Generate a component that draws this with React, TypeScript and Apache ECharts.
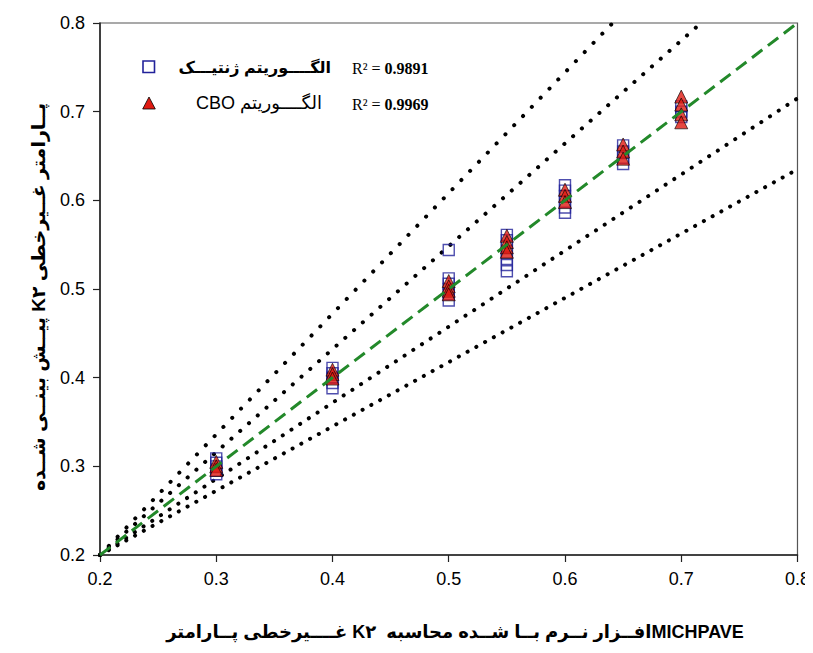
import React, { useEffect, useRef } from "react";
import * as echarts from "echarts";

// Measured K2 (MICHPAVE) values on the x axis
const xLevels = [0.3, 0.4, 0.5, 0.55, 0.6, 0.65, 0.7];

// Genetic algorithm predictions, grouped by x level
const geneticY = [
  [0.309, 0.304, 0.3, 0.295, 0.291],
  [0.411, 0.405, 0.4, 0.394, 0.388],
  [0.544, 0.512, 0.506, 0.5, 0.494, 0.487],
  [0.561, 0.555, 0.548, 0.541, 0.534, 0.527, 0.52],
  [0.617, 0.611, 0.605, 0.598, 0.592, 0.586],
  [0.662, 0.655, 0.648, 0.641],
  [0.706, 0.7, 0.694],
];

// CBO algorithm predictions, grouped by x level
const cboY = [
  [0.305, 0.3, 0.296],
  [0.409, 0.404, 0.399],
  [0.509, 0.503, 0.498, 0.494],
  [0.56, 0.553, 0.547, 0.542],
  [0.612, 0.605, 0.598],
  [0.663, 0.655, 0.647],
  [0.717, 0.708, 0.697, 0.688],
];

// Dotted guide lines, as [start, end] points
const guideLines = [
  { from: [0.2, 0.2], to: [0.641, 0.8], gap: 12.6 },
  { from: [0.2, 0.2], to: [0.717, 0.8], gap: 11.6 },
  { from: [0.2, 0.2], to: [0.8, 0.715], gap: 10.3 },
  { from: [0.2, 0.2], to: [0.8, 0.635], gap: 9.9 },
];

// Line of equality
const equalityLine = [
  [0.2, 0.2],
  [0.8, 0.8],
];

const axisTicks = { min: 0.2, max: 0.8, interval: 0.1 };

// Right-to-left embedding for mixed Persian/Latin strings
const rtl = (s: string) => "\u202B" + s + "\u202C";

const legendRows = [
  { name: "الگــــوریتم ژنتیـــک", r2: "0.9891" },
  { name: "الگــــوریتم CBO", r2: "0.9969" },
];

// x title words, placed left to right; the number is the space that follows each word
const xTitleWords: [string, number][] = [
  ["پــارامتر", 1],
  ["غــــیرخطی", 1],
  ["K۲", 2],
  ["محاسبه", 1],
  ["شــده", 1],
  ["بــا", 1],
  ["نــرم", 1],
  ["افــزار", 0],
  ["MICHPAVE", 0],
];
const yTitle = "پــارامتر غــیرخطی K۲ پیــش بینــی شــده";

const flatten = (groups: number[][]) =>
  groups.flatMap((ys, i) => ys.map((y) => [xLevels[i], y]));

const SANS = "Liberation Sans, Arial, DejaVu Sans, sans-serif";
const SERIF = "Liberation Serif, Times New Roman, serif";
const TITLE_FONT = `bold 18px ${SANS}`;

function layoutWords(centerX: number, y: number) {
  const ctx = document.createElement("canvas").getContext("2d")!;
  ctx.font = TITLE_FONT;
  const space = ctx.measureText(" ").width;
  const widths = xTitleWords.map(([w]) => ctx.measureText(w).width);
  const total = widths.reduce(
    (s, w, i) => s + w + xTitleWords[i][1] * space,
    0
  );
  let x = centerX - total / 2;
  return xTitleWords.map(([word, gap], i) => {
    const el = {
      type: "text",
      x,
      y,
      style: {
        text: word,
        align: "left",
        verticalAlign: "middle",
        font: TITLE_FONT,
        fill: "#000",
      },
    };
    x += widths[i] + gap * space;
    return el;
  });
}

export default function App() {
  const ref = useRef<HTMLDivElement>(null);

  useEffect(() => {
    if (!ref.current) return;
    const chart = echarts.init(ref.current, undefined, { renderer: "svg" });

    const axisCommon = {
      type: "value" as const,
      min: axisTicks.min,
      max: axisTicks.max,
      interval: axisTicks.interval,
      axisLine: { show: true, lineStyle: { color: "#222", width: 1.5 } },
      axisTick: { show: true, inside: false, length: 7, lineStyle: { color: "#222", width: 1.2 } },
      axisLabel: {
        color: "#000",
        fontSize: 18,
        fontFamily: SANS,
        margin: 15,
        formatter: (v: number) => v.toFixed(1),
      },
      splitLine: { show: false },
    };

    chart.setOption({
      animation: false,
      backgroundColor: "#fff",
      grid: {
        left: 100,
        right: 15,
        top: 23,
        bottom: 98,
        show: true,
        borderColor: "#555",
        borderWidth: 1.2,
        backgroundColor: "transparent",
      },
      xAxis: { ...axisCommon },
      yAxis: { ...axisCommon },
      series: [
        ...guideLines.map((g, i) => ({
          type: "line",
          name: "guide" + i,
          data: [g.from, g.to],
          showSymbol: false,
          silent: true,
          z: 1,
          lineStyle: { color: "#000", width: 4, type: [0.1, g.gap], cap: "round" },
        })),
        {
          type: "scatter",
          name: legendRows[0].name,
          data: flatten(geneticY),
          symbol: "rect",
          symbolSize: 11,
          z: 2,
          itemStyle: { color: "rgba(0,0,0,0)", borderColor: "#22229a", borderWidth: 1.4 },
        },
        {
          type: "scatter",
          name: legendRows[1].name,
          data: flatten(cboY),
          symbol: "triangle",
          symbolSize: 13,
          z: 3,
          itemStyle: { color: "#e01a12", borderColor: "#000", borderWidth: 0.8 },
        },
        {
          type: "line",
          name: "equality",
          data: equalityLine,
          showSymbol: false,
          silent: true,
          z: 4,
          lineStyle: { color: "#23892a", width: 3, type: [13, 7] },
        },
      ],
      graphic: [
        // legend
        {
          type: "rect",
          shape: { x: 143, y: 61, width: 11.5, height: 11.5 },
          style: { fill: "none", stroke: "#22229a", lineWidth: 1.6 },
        },
        {
          type: "polygon",
          shape: {
            points: [
              [149, 97],
              [142.7, 109],
              [155.3, 109],
            ],
          },
          style: { fill: "#e01a12", stroke: "#000", lineWidth: 0.8 },
        },
        {
          type: "text",
          x: 331,
          y: 67,
          style: {
            text: legendRows[0].name,
            align: "right",
            verticalAlign: "middle",
            fontSize: 16,
            fontWeight: "bold",
            fontFamily: SANS,
            fill: "#000",
          },
        },
        {
          type: "text",
          x: 322,
          y: 103,
          style: {
            text: rtl(legendRows[1].name),
            align: "right",
            verticalAlign: "middle",
            fontSize: 18,
            fontFamily: SANS,
            fill: "#000",
          },
        },
        ...legendRows.map((row, i) => ({
          type: "text",
          x: 352,
          y: i === 0 ? 68 : 104,
          style: {
            text: `{r|R² = }{b|${row.r2}}`,
            verticalAlign: "middle",
            rich: {
              r: { fontSize: 16, fontFamily: SERIF, fill: "#000" },
              b: { fontSize: 16, fontFamily: SERIF, fontWeight: "bold", fill: "#000" },
            },
          },
        })),
        // axis titles
        ...layoutWords(455, 632),
        {
          type: "text",
          x: 38,
          y: 297,
          rotation: Math.PI / 2,
          style: {
            text: rtl(yTitle),
            align: "center",
            verticalAlign: "middle",
            fontSize: 19,
            fontWeight: "bold",
            fontFamily: SANS,
            fill: "#000",
          },
        },
      ],
    });

    return () => chart.dispose();
  }, []);

  return <div ref={ref} style={{ width: 813, height: 653, margin: -8 }} />;
}
